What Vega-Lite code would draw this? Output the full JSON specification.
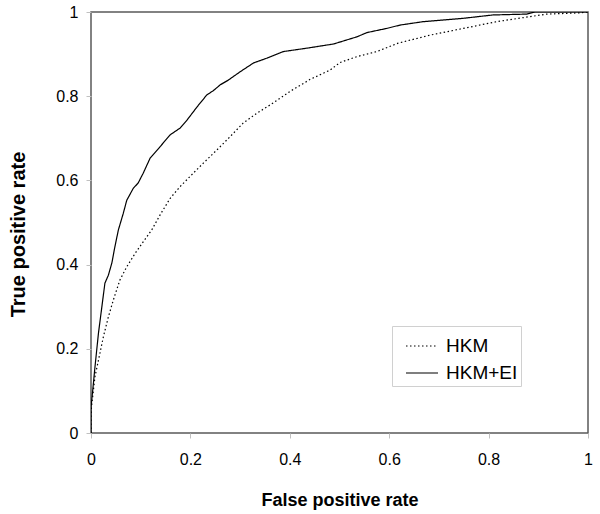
{
  "$schema": "https://vega.github.io/schema/vega-lite/v6.json",
  "width": 497,
  "height": 421,
  "autosize": {"type": "none"},
  "padding": {"left": 91, "top": 12, "right": 12, "bottom": 81},
  "background": "white",
  "config": {
    "font": "Liberation Sans",
    "view": {"stroke": "#5a5a5a", "strokeWidth": 1.5}
  },
  "data": {
    "values": [
      {"model": "HKM+EI", "fpr": 0, "tpr": 0},
      {"model": "HKM+EI", "fpr": 0, "tpr": 0.06},
      {"model": "HKM+EI", "fpr": 0.005, "tpr": 0.12},
      {"model": "HKM+EI", "fpr": 0.008, "tpr": 0.157},
      {"model": "HKM+EI", "fpr": 0.015, "tpr": 0.237},
      {"model": "HKM+EI", "fpr": 0.021, "tpr": 0.292},
      {"model": "HKM+EI", "fpr": 0.028, "tpr": 0.356},
      {"model": "HKM+EI", "fpr": 0.035, "tpr": 0.375},
      {"model": "HKM+EI", "fpr": 0.042, "tpr": 0.404},
      {"model": "HKM+EI", "fpr": 0.048, "tpr": 0.442},
      {"model": "HKM+EI", "fpr": 0.055, "tpr": 0.482},
      {"model": "HKM+EI", "fpr": 0.065, "tpr": 0.522},
      {"model": "HKM+EI", "fpr": 0.072, "tpr": 0.553},
      {"model": "HKM+EI", "fpr": 0.085, "tpr": 0.581},
      {"model": "HKM+EI", "fpr": 0.095, "tpr": 0.594},
      {"model": "HKM+EI", "fpr": 0.105, "tpr": 0.617},
      {"model": "HKM+EI", "fpr": 0.119, "tpr": 0.653},
      {"model": "HKM+EI", "fpr": 0.139, "tpr": 0.68},
      {"model": "HKM+EI", "fpr": 0.159, "tpr": 0.708},
      {"model": "HKM+EI", "fpr": 0.179, "tpr": 0.724},
      {"model": "HKM+EI", "fpr": 0.193, "tpr": 0.743},
      {"model": "HKM+EI", "fpr": 0.213, "tpr": 0.774},
      {"model": "HKM+EI", "fpr": 0.233, "tpr": 0.803},
      {"model": "HKM+EI", "fpr": 0.246, "tpr": 0.813},
      {"model": "HKM+EI", "fpr": 0.26, "tpr": 0.827},
      {"model": "HKM+EI", "fpr": 0.276, "tpr": 0.838},
      {"model": "HKM+EI", "fpr": 0.3, "tpr": 0.858},
      {"model": "HKM+EI", "fpr": 0.327, "tpr": 0.879},
      {"model": "HKM+EI", "fpr": 0.353, "tpr": 0.89},
      {"model": "HKM+EI", "fpr": 0.387, "tpr": 0.906},
      {"model": "HKM+EI", "fpr": 0.434, "tpr": 0.914},
      {"model": "HKM+EI", "fpr": 0.488, "tpr": 0.924},
      {"model": "HKM+EI", "fpr": 0.535, "tpr": 0.941},
      {"model": "HKM+EI", "fpr": 0.555, "tpr": 0.951},
      {"model": "HKM+EI", "fpr": 0.595, "tpr": 0.961},
      {"model": "HKM+EI", "fpr": 0.622, "tpr": 0.969},
      {"model": "HKM+EI", "fpr": 0.668, "tpr": 0.977},
      {"model": "HKM+EI", "fpr": 0.749, "tpr": 0.985},
      {"model": "HKM+EI", "fpr": 0.809, "tpr": 0.993},
      {"model": "HKM+EI", "fpr": 0.877, "tpr": 0.995},
      {"model": "HKM+EI", "fpr": 0.893, "tpr": 1.0},
      {"model": "HKM+EI", "fpr": 1, "tpr": 1},
      {"model": "HKM", "fpr": 0, "tpr": 0},
      {"model": "HKM", "fpr": 0, "tpr": 0.04},
      {"model": "HKM", "fpr": 0.001, "tpr": 0.062},
      {"model": "HKM", "fpr": 0.008, "tpr": 0.134},
      {"model": "HKM", "fpr": 0.015, "tpr": 0.173},
      {"model": "HKM", "fpr": 0.025, "tpr": 0.229},
      {"model": "HKM", "fpr": 0.035, "tpr": 0.276},
      {"model": "HKM", "fpr": 0.045, "tpr": 0.316},
      {"model": "HKM", "fpr": 0.058, "tpr": 0.363},
      {"model": "HKM", "fpr": 0.072, "tpr": 0.395},
      {"model": "HKM", "fpr": 0.089, "tpr": 0.427},
      {"model": "HKM", "fpr": 0.105, "tpr": 0.454},
      {"model": "HKM", "fpr": 0.122, "tpr": 0.482},
      {"model": "HKM", "fpr": 0.139, "tpr": 0.518},
      {"model": "HKM", "fpr": 0.159, "tpr": 0.557},
      {"model": "HKM", "fpr": 0.179, "tpr": 0.585},
      {"model": "HKM", "fpr": 0.199, "tpr": 0.609},
      {"model": "HKM", "fpr": 0.226, "tpr": 0.641},
      {"model": "HKM", "fpr": 0.253, "tpr": 0.672},
      {"model": "HKM", "fpr": 0.28, "tpr": 0.704},
      {"model": "HKM", "fpr": 0.306, "tpr": 0.736},
      {"model": "HKM", "fpr": 0.333, "tpr": 0.759},
      {"model": "HKM", "fpr": 0.36, "tpr": 0.779},
      {"model": "HKM", "fpr": 0.4, "tpr": 0.811},
      {"model": "HKM", "fpr": 0.441, "tpr": 0.84},
      {"model": "HKM", "fpr": 0.481, "tpr": 0.862},
      {"model": "HKM", "fpr": 0.501, "tpr": 0.88},
      {"model": "HKM", "fpr": 0.535, "tpr": 0.894},
      {"model": "HKM", "fpr": 0.575, "tpr": 0.906},
      {"model": "HKM", "fpr": 0.618, "tpr": 0.926},
      {"model": "HKM", "fpr": 0.682, "tpr": 0.945},
      {"model": "HKM", "fpr": 0.749, "tpr": 0.961},
      {"model": "HKM", "fpr": 0.816, "tpr": 0.977},
      {"model": "HKM", "fpr": 0.883, "tpr": 0.989},
      {"model": "HKM", "fpr": 0.917, "tpr": 0.995},
      {"model": "HKM", "fpr": 0.984, "tpr": 0.998},
      {"model": "HKM", "fpr": 1, "tpr": 1}
    ]
  },
  "mark": {"type": "line", "stroke": "black", "strokeWidth": 1.2, "clip": true},
  "encoding": {
    "x": {
      "field": "fpr",
      "type": "quantitative",
      "scale": {"domain": [0, 1], "nice": false, "zero": false},
      "axis": {
        "title": "False positive rate",
        "values": [0, 0.2, 0.4, 0.6, 0.8, 1],
        "format": "~g",
        "grid": false,
        "domain": false,
        "tickColor": "#c0c0c0",
        "tickSize": 5,
        "labelPadding": 13,
        "labelFontSize": 16,
        "labelColor": "black",
        "labelFlush": false,
        "titleFontSize": 18,
        "titleFontWeight": "bold",
        "titleColor": "black",
        "titleX": 248.5,
        "titleY": 67,
        "titleBaseline": "middle",
        "titleAlign": "center"
      }
    },
    "y": {
      "field": "tpr",
      "type": "quantitative",
      "scale": {"domain": [0, 1], "nice": false, "zero": false},
      "axis": {
        "title": "True positive rate",
        "values": [0, 0.2, 0.4, 0.6, 0.8, 1],
        "format": "~g",
        "grid": false,
        "domain": false,
        "tickColor": "#c0c0c0",
        "tickSize": 5,
        "labelPadding": 8,
        "labelFontSize": 16,
        "labelColor": "black",
        "labelFlush": false,
        "titleFontSize": 20,
        "titleFontWeight": "bold",
        "titleColor": "black",
        "titleX": -73,
        "titleY": 222,
        "titleAngle": 270,
        "titleBaseline": "middle",
        "titleAlign": "center"
      }
    },
    "strokeDash": {
      "field": "model",
      "type": "nominal",
      "scale": {"domain": ["HKM", "HKM+EI"], "range": [[1.5, 2.5], [1, 0]]},
      "legend": {
        "title": null,
        "orient": "none",
        "legendX": 301,
        "legendY": 314,
        "strokeColor": "#d0d0d0",
        "fillColor": "white",
        "padding": 3,
        "symbolType": "stroke",
        "symbolSize": 1024,
        "symbolStrokeColor": "black",
        "symbolStrokeWidth": 1.2,
        "symbolOffset": 10,
        "labelFontSize": 19,
        "labelColor": "black",
        "labelOffset": 7,
        "rowPadding": 0
      }
    }
  }
}
